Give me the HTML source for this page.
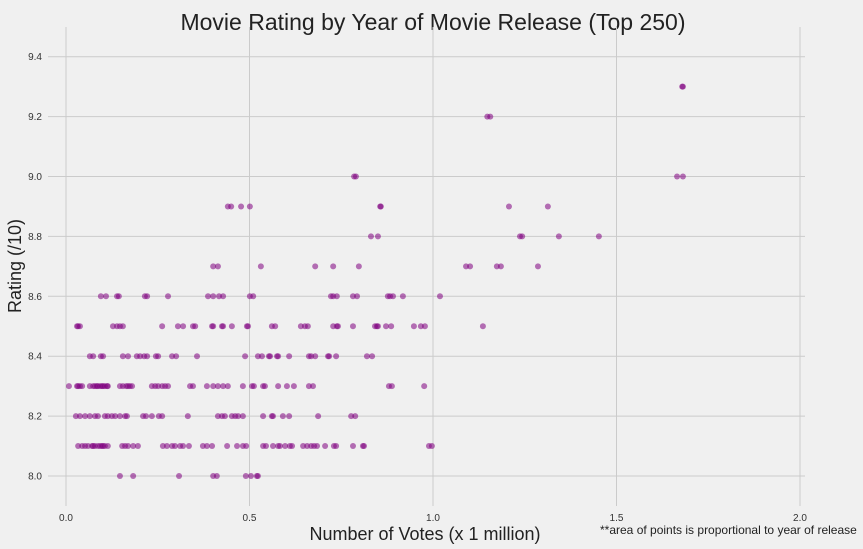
<!DOCTYPE html>
<html><head><meta charset="utf-8"><style>
body{margin:0;background:#f0f0f0;}
svg{display:block;font-family:"Liberation Sans",sans-serif;}
</style></head><body>
<svg id="chart" width="863" height="549" viewBox="0 0 863 549">
<rect width="863" height="549" fill="#f0f0f0"/>
<text x="433" y="30" text-anchor="middle" font-size="23" fill="#222">Movie Rating by Year of Movie Release (Top 250)</text>
<text x="425" y="540" text-anchor="middle" font-size="18" fill="#222">Number of Votes (x 1 million)</text>
<text transform="translate(21,266) rotate(-90)" text-anchor="middle" font-size="18" fill="#222">Rating (/10)</text>
<text x="600" y="534" font-size="12" fill="#222">**area of points is proportional to year of release</text>
<g id="grid"></g><g id="ticks"></g><g id="points"></g>
</svg>
<script>
const xTicks=[0.0,0.5,1.0,1.5,2.0];
const xTickLabels=["0.0","0.5","1.0","1.5","2.0"];
const yTicks=[8.0,8.2,8.4,8.6,8.8,9.0,9.2,9.4];
const yTickLabels=["8.0","8.2","8.4","8.6","8.8","9.0","9.2","9.4"];
const votes80=[.147,.183,.308,.401,.411,.490,.504,.520,.523];
const votes81=[.033,.044,.052,.060,.071,.074,.079,.087,.093,.098,.101,.106,.114,.153,.161,.169,.183,.196,.264,.275,.289,.297,.311,.319,.335,.373,.384,.398,.439,.466,.482,.491,.537,.545,.564,.578,.583,.597,.610,.616,.646,.657,.668,.676,.684,.706,.730,.736,.782,.809,.812,.989,.997];
const votes82=[.027,.038,.052,.065,.079,.087,.106,.114,.125,.134,.147,.161,.166,.210,.218,.234,.253,.262,.332,.414,.425,.433,.452,.461,.469,.482,.537,.561,.564,.591,.608,.687,.777,.788];
const votes83=[.008,.030,.033,.038,.044,.065,.074,.079,.084,.087,.093,.098,.101,.106,.112,.114,.147,.155,.164,.169,.174,.180,.234,.243,.251,.262,.270,.278,.338,.346,.384,.401,.414,.428,.441,.482,.507,.512,.537,.542,.578,.602,.621,.662,.673,.880,.888,.976];
const votes84=[.065,.074,.095,.101,.155,.169,.193,.202,.213,.221,.245,.251,.289,.300,.357,.488,.523,.534,.556,.553,.575,.578,.608,.662,.668,.679,.714,.717,.736,.820,.834];
const votes85=[.030,.033,.038,.128,.139,.147,.155,.262,.305,.319,.346,.352,.398,.401,.425,.428,.452,.496,.493,.561,.570,.640,.651,.659,.728,.738,.741,.782,.842,.847,.850,.872,.886,.948,.967,.978,1.136];
const votes86=[.095,.109,.139,.144,.215,.221,.278,.387,.401,.417,.428,.501,.510,.722,.728,.738,.782,.793,.877,.883,.891,.918,1.019];
const votes87=[.401,.414,.531,.679,.728,.798,1.090,1.101,1.174,1.185,1.286];
const votes88=[.831,.850,1.237,1.243,1.343,1.452];
const votes89=[.441,.450,.477,.501,.856,.858,1.207,1.313];
const votes90=[.785,.790,1.665,1.681];
const votes92=[1.148,1.156];
const votes93=[1.679,1.681];
const ratingLevels=[8.0,8.1,8.2,8.3,8.4,8.5,8.6,8.7,8.8,8.9,9.0,9.2,9.3];
const votesByLevel=[votes80,votes81,votes82,votes83,votes84,votes85,votes86,votes87,votes88,votes89,votes90,votes92,votes93];

const NS="http://www.w3.org/2000/svg";
function xs(v){return 66+v*367;}
function ys(r){return 476-(r-8.0)*299.5;}
const grid=document.getElementById('grid'),ticks=document.getElementById('ticks'),pts=document.getElementById('points');
xTicks.forEach((t,i)=>{
  const l=document.createElementNS(NS,'line');
  l.setAttribute('x1',xs(t));l.setAttribute('x2',xs(t));l.setAttribute('y1',27);l.setAttribute('y2',506);
  l.setAttribute('stroke','#cbcbcb');l.setAttribute('stroke-width','1');
  
  
  grid.appendChild(l);
  const tx=document.createElementNS(NS,'text');
  tx.setAttribute('x',xs(t));tx.setAttribute('y',521);tx.setAttribute('text-anchor','middle');
  tx.setAttribute('font-size','10');tx.setAttribute('fill','#333');tx.textContent=xTickLabels[i];
  
  
  ticks.appendChild(tx);
});
yTicks.forEach((t,i)=>{
  const l=document.createElementNS(NS,'line');
  l.setAttribute('x1',48);l.setAttribute('x2',805);l.setAttribute('y1',ys(t));l.setAttribute('y2',ys(t));
  l.setAttribute('stroke','#cbcbcb');l.setAttribute('stroke-width','1');
  
  
  grid.appendChild(l);
  const tx=document.createElementNS(NS,'text');
  tx.setAttribute('x',42);tx.setAttribute('y',ys(t)+3.5);tx.setAttribute('text-anchor','end');
  tx.setAttribute('font-size','10');tx.setAttribute('fill','#333');tx.textContent=yTickLabels[i];
  
  
  ticks.appendChild(tx);
});
ratingLevels.forEach((r,k)=>{
  votesByLevel[k].forEach(v=>{
    const c=document.createElementNS(NS,'circle');
    c.setAttribute('cx',xs(v));c.setAttribute('cy',ys(r));c.setAttribute('r',3);
    c.setAttribute('fill','#800080');c.setAttribute('fill-opacity','0.55');
    
    
    pts.appendChild(c);
  });
});
</script>
</body></html>
